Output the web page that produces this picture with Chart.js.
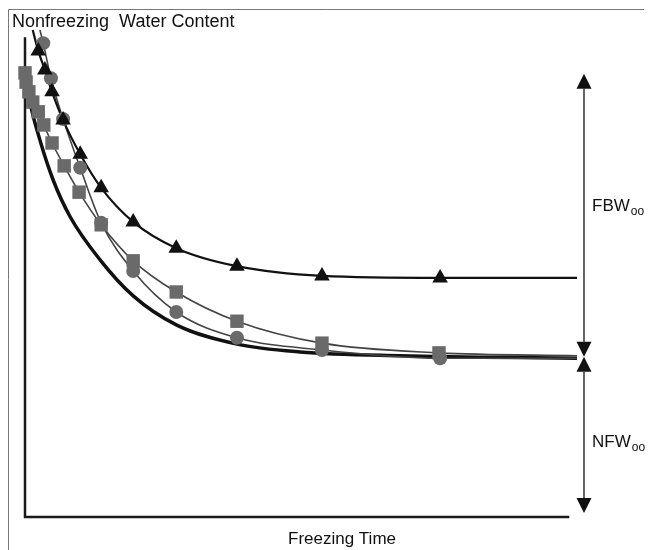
<!DOCTYPE html>
<html>
<head>
<meta charset="utf-8">
<script src="https://cdn.jsdelivr.net/npm/chart.js@4"></script>
<style>
  body { margin: 0; background: #fff; }
</style>
</head>
<body>
<canvas id="chart1" width="653" height="550"></canvas>
<script>
// values, time and water content in relative units (0-100)
var triX = [2.4, 3.6, 4.9, 6.9, 10.0, 13.8, 19.6, 27.4, 38.4, 53.8, 75.2];
var triY = [95.7, 91.8, 87.3, 81.5, 74.5, 67.6, 60.6, 55.2, 51.5, 49.5, 49.1];
var triStart = [1.4, 100];
var triEnd = [100, 49.1];

var cirX = [3.3, 4.7, 6.9, 10.0, 13.8, 19.6, 27.4, 38.4, 53.8, 75.2];
var cirY = [97.3, 90.1, 81.7, 71.7, 60.4, 50.5, 42.1, 36.8, 34.3, 32.6];
var cirStart = [2.7, 100];
var cirEnd = [100, 32.6];

var sqX = [0, 0.2, 0.7, 1.4, 2.4, 3.4, 4.9, 7.1, 9.8, 13.8, 19.6, 27.4, 38.4, 53.8, 75.0];
var sqY = [91.2, 89.3, 87.3, 85.2, 83.2, 80.5, 76.8, 72.1, 66.7, 60.0, 52.6, 46.2, 40.2, 35.7, 33.7];
var sqEnd = [100, 33.1];

// thick model curve
var fitX = [0, 0.9, 2.7, 5.1, 8.2, 13.6, 19.6, 27.5, 38.4, 49.8, 67.9, 100];
var fitY = [91.4, 85.2, 77.4, 69.2, 61.6, 52.8, 45.4, 39.4, 35.5, 33.9, 33.1, 32.6];

// arrow levels on the right
var arrowTop = 91;
var arrowMid = 32.9;
var arrowBottom = 0.8;
var yAxisTop = 98.5;
var xAxisEnd = 98.6;

function pts(xs, ys) {
    var out = [];
    for (var i = 0; i < xs.length; i++) out.push({x: xs[i], y: ys[i]});
    return out;
}
function withEnds(start, arr, end) {
    var out = arr.slice();
    if (start) out.unshift({x: start[0], y: start[1]});
    if (end) out.push({x: end[0], y: end[1]});
    return out;
}

var grey = '#6a6a6a';
var greyLine = '#444';

var figPlugin = {
    id: 'fig',
    beforeDraw: function(chart) {
        var c = chart.ctx;
        c.save();
        c.fillStyle = '#fff';
        c.fillRect(0, 0, chart.width, chart.height);
        // scanned frame
        c.strokeStyle = '#777';
        c.lineWidth = 1;
        c.beginPath();
        c.moveTo(8.5, 550);
        c.lineTo(8.5, 9.5);
        c.lineTo(644, 9.5);
        c.stroke();
        // axes
        var xs = chart.scales.x, ys = chart.scales.y;
        var x0 = xs.getPixelForValue(0), y0 = ys.getPixelForValue(0);
        c.strokeStyle = '#1a1a1a';
        c.lineWidth = 2.5;
        c.beginPath();
        c.moveTo(x0, ys.getPixelForValue(yAxisTop));
        c.lineTo(x0, y0);
        c.lineTo(xs.getPixelForValue(xAxisEnd), y0);
        c.stroke();
        c.restore();
    },
    afterDraw: function(chart) {
        var c = chart.ctx;
        var xs = chart.scales.x, ys = chart.scales.y;
        c.save();
        c.fillStyle = '#111';
        c.font = '18px "Liberation Sans", Arial, sans-serif';
        c.textBaseline = 'alphabetic';
        c.textAlign = 'left';
        c.fillText('Nonfreezing  Water Content', 12, 27);
        c.font = '17px "Liberation Sans", Arial, sans-serif';
        c.textAlign = 'center';
        c.fillText('Freezing Time', 342, 544);

        // arrows
        var ax = xs.right + 7;
        var yt = ys.getPixelForValue(arrowTop);
        var ym = ys.getPixelForValue(arrowMid);
        var yb = ys.getPixelForValue(arrowBottom);
        var hw = 7.5, hh = 15;
        c.strokeStyle = '#111';
        c.lineWidth = 1.3;
        c.beginPath();
        c.moveTo(ax, yt + hh); c.lineTo(ax, ym - hh);
        c.moveTo(ax, ym + hh); c.lineTo(ax, yb - hh);
        c.stroke();
        function head(y, dir) {
            c.beginPath();
            c.moveTo(ax, y);
            c.lineTo(ax - hw, y + dir * hh);
            c.lineTo(ax + hw, y + dir * hh);
            c.closePath();
            c.fill();
        }
        head(yt, 1);
        head(ym, -1);
        head(ym, 1);
        head(yb, -1);

        // labels with subscript
        function label(main, sub, y) {
            c.textAlign = 'left';
            c.font = '17px "Liberation Sans", Arial, sans-serif';
            c.fillText(main, 592, y);
            var w = c.measureText(main).width;
            c.font = '12px "Liberation Sans", Arial, sans-serif';
            c.fillText(sub, 592 + w + 1, y + 4);
        }
        label('FBW', 'oo', ys.getPixelForValue((arrowTop + arrowMid) / 2) - 4);
        label('NFW', 'oo', ys.getPixelForValue(arrowMid / 2) + 10);
        c.restore();
    }
};

var triPts = pts(triX, triY);
var cirPts = pts(cirX, cirY);
var sqPts = pts(sqX, sqY);

new Chart(document.getElementById('chart1'), {
    type: 'scatter',
    data: {
        datasets: [{
            data: triPts,
            pointStyle: 'triangle',
            pointRadius: 9,
            backgroundColor: '#111',
            borderColor: '#111',
            borderWidth: 0,
            showLine: false,
            clip: false,
            order: 1
        }, {
            data: sqPts,
            pointStyle: 'rect',
            pointRadius: 9.5,
            backgroundColor: grey,
            borderColor: grey,
            borderWidth: 0,
            showLine: false,
            clip: false,
            order: 2
        }, {
            data: cirPts,
            pointStyle: 'circle',
            pointRadius: 7,
            backgroundColor: grey,
            borderColor: grey,
            borderWidth: 0,
            showLine: false,
            clip: false,
            order: 3
        }, {
            data: withEnds(triStart, triPts, triEnd),
            showLine: true,
            pointRadius: 0,
            borderColor: '#111',
            borderWidth: 2.2,
            cubicInterpolationMode: 'monotone',
            clip: false,
            order: 4
        }, {
            data: withEnds(null, sqPts, sqEnd),
            showLine: true,
            pointRadius: 0,
            borderColor: greyLine,
            borderWidth: 1.6,
            cubicInterpolationMode: 'monotone',
            clip: false,
            order: 5
        }, {
            data: withEnds(cirStart, cirPts, cirEnd),
            showLine: true,
            pointRadius: 0,
            borderColor: greyLine,
            borderWidth: 1.6,
            cubicInterpolationMode: 'monotone',
            clip: false,
            order: 6
        }, {
            data: pts(fitX, fitY),
            showLine: true,
            pointRadius: 0,
            borderColor: '#111',
            borderWidth: 3.5,
            cubicInterpolationMode: 'monotone',
            clip: false,
            order: 7
        }]
    },
    options: {
        responsive: false,
        animation: false,
        layout: { padding: { left: 25, right: 76, top: 30, bottom: 33 } },
        plugins: {
            legend: { display: false },
            tooltip: { enabled: false }
        },
        scales: {
            x: { type: 'linear', min: 0, max: 100, display: false },
            y: { type: 'linear', min: 0, max: 100, display: false }
        },
        elements: { line: { fill: false } }
    },
    plugins: [figPlugin]
});
</script>
</body>
</html>
